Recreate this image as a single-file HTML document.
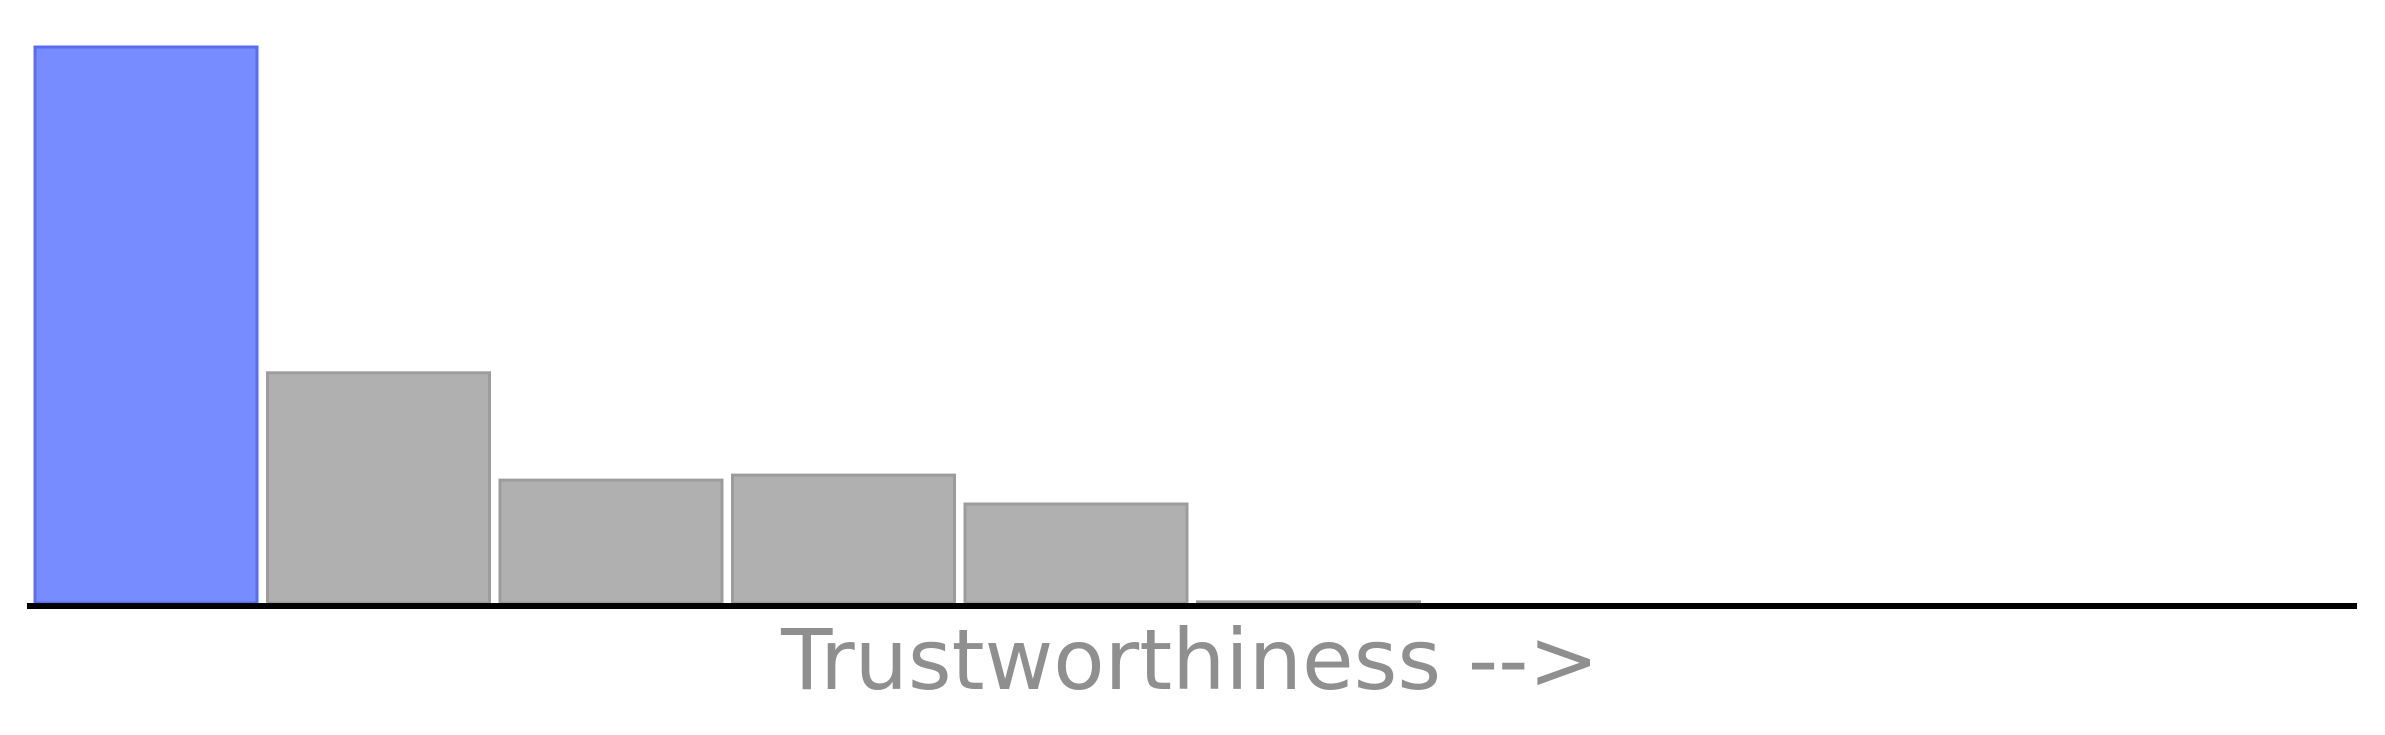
<!DOCTYPE html>
<html><head><meta charset="utf-8"><style>
html,body{margin:0;padding:0;background:#fff;}
svg{display:block;}
</style></head><body>
<svg id="chart" width="2385" height="735" viewBox="0 0 2385 735" xmlns="http://www.w3.org/2000/svg">
<g id="bars"></g>
<line x1="27" y1="606" x2="2357" y2="606" stroke="#000" stroke-width="6"/>
<text x="1190" y="689" text-anchor="middle" font-family="DejaVu Sans, Liberation Sans, sans-serif" font-size="84" fill="#8f8f8f">Trustworthiness --&gt;</text>
</svg>
<script>
const categories = ["b1","b2","b3","b4","b5","b6"];
const values = [1.0, 0.414, 0.221, 0.230, 0.178, 0.002];
const highlight = [true,false,false,false,false,false];
const yMax = 1.0;
const baseY = 603, plotH = 556, x0 = 35, step = 232.5, bw = 222;
function xScale(i){return x0 + i*step;}
function yScale(v){return baseY - v/yMax*plotH;}
const g = document.getElementById('bars');
const NS = "http://www.w3.org/2000/svg";
values.forEach((v,i)=>{
  const r = document.createElementNS(NS,'rect');
  const y = yScale(v);
  r.setAttribute('x', xScale(i));
  r.setAttribute('y', y);
  r.setAttribute('width', bw);
  r.setAttribute('height', Math.max(0, baseY - y));
  r.setAttribute('fill', highlight[i] ? '#778cff' : '#b0b0b0');
  r.setAttribute('stroke', highlight[i] ? '#5a6cf5' : '#9c9c9c');
  r.setAttribute('stroke-width', '3');
  
  
  g.appendChild(r);
});
</script>
</body></html>
